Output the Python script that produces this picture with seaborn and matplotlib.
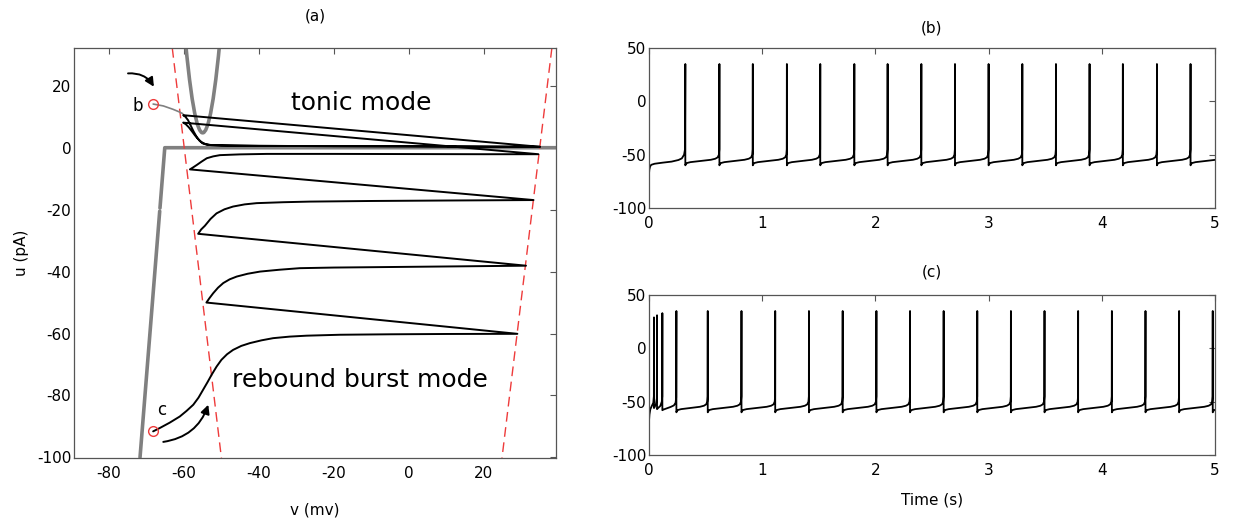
import numpy as np
import pandas as pd
import matplotlib
matplotlib.use("Agg")
import matplotlib.pyplot as plt
import seaborn as sns

# ---------------- Panel (a): phase plane (v in mV, u in pA) ----------------
# u-nullcline (thick grey), drawn in two pieces (small break near u=-20)
unull_lo_v = [-71.7, -66.45]
unull_lo_u = [-100.0, -20.5]
unull_hi_v = [-66.38, -65.1, 45.0]
unull_hi_u = [-19.5, 0.0, 0.0]

# v-nullcline (thick grey parabola)
vnull_v = [-59.8, -59.2, -58.5, -57.8, -57.1, -56.4, -55.8, -55.3, -55.0,
           -54.7, -54.2, -53.6, -52.9, -52.2, -51.5, -50.8, -50.2]
vnull_u = [37.1, 29.5, 22.0, 15.8, 11.0, 7.5, 5.7, 4.9, 4.8,
           4.9, 5.7, 7.5, 11.0, 15.8, 22.0, 29.5, 37.1]

# reset line and spike-peak line (red dashed)
reset_line_v = [-63.1, -50.0]
reset_line_u = [32.2, -100.2]
peak_line_v = [38.1, 24.8]
peak_line_u = [32.2, -100.2]

# tonic mode: grey transient from point b
tonic_in_v = [-68.2, -65.5, -62.9, -61.3, -60.3]
tonic_in_u = [14.1, 13.5, 12.4, 11.6, 11.0]

# limit cycle of tonic mode
cyc_v = [-60.2, -59.6, -58.9, -58.2, -57.4, -56.6, -55.8, -55.0, -54.0, -52.5,
         -50.0, -40.0, -20.0, 0.0, 20.0, 34.9]
cyc_u = [10.5, 10.0, 8.9, 7.2, 5.2, 3.5, 2.2, 1.4, 1.0, 0.8,
         0.7, 0.6, 0.5, 0.45, 0.35, 0.3]

# rebound burst trajectory from point c (segments between spikes)
rb1_v = [-68.2, -66.4, -63.8, -61.1, -59.3, -57.5, -56.1, -54.9, -53.7, -52.6, -51.3,
         -50.0, -48.5, -46.9, -44.7, -42.4, -39.3, -36.2, -31.8, -27.3, -18.4, -5.0, 10.0, 28.9]
rb1_u = [-91.6, -90.5, -88.8, -86.8, -85.0, -83.0, -80.7, -78.2, -75.7, -73.3, -70.7,
         -68.5, -66.7, -65.3, -64.0, -63.1, -62.2, -61.5, -61.0, -60.7, -60.4, -60.25, -60.15, -60.1]
rb2_v = [-54.0, -53.2, -52.2, -50.9, -49.5, -47.8, -45.9, -43.0, -39.7, -34.5, -29.1,
         -20.0, -11.3, 10.0, 31.2]
rb2_u = [-50.0, -48.6, -47.0, -45.2, -43.7, -42.5, -41.6, -40.7, -40.0, -39.4, -38.9,
         -38.7, -38.6, -38.35, -38.1]
rb3_v = [-56.2, -55.4, -54.4, -52.9, -51.3, -49.2, -46.9, -43.8, -40.6, -33.5, -26.4,
         -10.0, 10.0, 33.2]
rb3_u = [-27.8, -26.4, -25.2, -23.0, -21.2, -19.9, -19.0, -18.3, -17.9, -17.6, -17.4,
         -17.2, -17.05, -16.9]
rb4_v = [-58.4, -57.6, -56.6, -55.3, -53.9, -52.2, -50.4, -45.0, -37.9, -20.0, 0.0, 20.0, 34.5]
rb4_u = [-7.0, -6.4, -5.6, -4.5, -3.4, -2.8, -2.4, -2.15, -2.0, -2.0, -2.05, -2.1, -2.1]
rb5_v = [-60.2, -59.5, -58.7, -57.8, -57.0, -56.2, -55.3, -54.3, -53.0, -50.0,
         -40.0, -20.0, 0.0, 20.0, 34.9]
rb5_u = [8.1, 7.6, 6.6, 5.2, 3.9, 2.8, 1.8, 1.2, 0.9, 0.75,
         0.6, 0.5, 0.45, 0.35, 0.3]

start_pts_v = [-68.2, -68.2]
start_pts_u = [14.1, -91.6]

# ---------------- Panels (b) and (c): voltage traces ----------------
# one regular inter-spike interval, as fraction of the interval, and voltage (mV)
isi_phase = [0.0, 0.01, 0.05, 0.15, 0.35, 0.55, 0.75, 0.88, 0.95, 0.985, 0.997]
isi_volt = [-60.0, -59.0, -57.8, -57.0, -56.3, -55.6, -54.8, -53.8, -52.5, -50.0, -45.0]
last_period = 0.297

# (b) tonic: onset then regular spikes
b_init_t = [0.0, 0.003, 0.01, 0.02, 0.05, 0.12, 0.2, 0.26, 0.29, 0.31, 0.318, 0.321]
b_init_v = [-68.0, -64.0, -61.0, -59.5, -58.5, -57.5, -56.5, -55.0, -53.5, -50.0, -45.0, 35.0]
b_spikes = [0.321, 0.622, 0.917, 1.218, 1.513, 1.814, 2.108, 2.406, 2.703, 3.000,
            3.298, 3.595, 3.892, 4.186, 4.487, 4.784]
b_peaks = [35] * 16

# (c) rebound burst: burst of three spikes then regular spikes
c_init_t = [0.0, 0.004, 0.012, 0.025, 0.038, 0.043, 0.044, 0.044, 0.05, 0.062, 0.069,
            0.071, 0.071, 0.08, 0.1, 0.113, 0.117, 0.118, 0.118, 0.125, 0.15, 0.19,
            0.22, 0.235, 0.24, 0.242]
c_init_v = [-68.0, -62.0, -57.0, -54.0, -51.0, -45.0, 29.0, -56.0, -55.0, -52.0, -47.0,
            31.0, -57.0, -56.0, -54.0, -50.0, -45.0, 33.0, -58.0, -57.5, -56.5, -55.0,
            -53.5, -51.0, -46.0, 35.0]
c_spikes = [0.242, 0.519, 0.817, 1.115, 1.413, 1.711, 2.009, 2.306, 2.603, 2.900,
            3.197, 3.494, 3.791, 4.089, 4.386, 4.683, 4.980]
c_peaks = [35] * 17


def build_trace(init_t, init_v, spikes, peaks):
    t, v = list(init_t), list(init_v)
    for i, s in enumerate(spikes):
        nxt = spikes[i + 1] if i + 1 < len(spikes) else s + last_period
        for p, val in zip(isi_phase, isi_volt):
            t.append(s + p * (nxt - s))
            v.append(val)
        if i + 1 < len(spikes):
            t.append(nxt)
            v.append(peaks[i + 1])
    return pd.DataFrame({"t": t, "v": v})


# ---------------- Figure ----------------
sns.set_style("white")
plt.rcParams["font.family"] = ["DejaVu Sans"]
plt.rcParams["axes.unicode_minus"] = False
plt.rcParams["text.color"] = "black"
plt.rcParams["axes.labelcolor"] = "black"
plt.rcParams["xtick.color"] = "black"
plt.rcParams["ytick.color"] = "black"

fig = plt.figure(figsize=(12.34, 5.2), dpi=100)
ax_a = fig.add_axes([74 / 1234, 1 - 458 / 520, 482 / 1234, 410 / 520])
ax_b = fig.add_axes([649 / 1234, 1 - 208 / 520, 566 / 1234, 160 / 520])
ax_c = fig.add_axes([649 / 1234, 1 - 455 / 520, 566 / 1234, 160 / 520])

GREY = "#808080"
RED = "#ee3b3b"
SPINE = "#555555"


def line(ax, x, y, **kw):
    sns.lineplot(x=x, y=y, ax=ax, sort=False, estimator=None, legend=False, **kw)


# panel (a)
line(ax_a, unull_lo_v, unull_lo_u, color=GREY, lw=2.6)
line(ax_a, unull_hi_v, unull_hi_u, color=GREY, lw=2.6)
line(ax_a, vnull_v, vnull_u, color=GREY, lw=2.6)
for vv, uu in [(reset_line_v, reset_line_u), (peak_line_v, peak_line_u)]:
    ax_a.plot(vv, uu, color=RED, lw=1.0, dashes=(7, 4))
line(ax_a, tonic_in_v, tonic_in_u, color=GREY, lw=1.2)
rb_v = rb1_v + rb2_v + rb3_v + rb4_v + rb5_v + cyc_v
rb_u = rb1_u + rb2_u + rb3_u + rb4_u + rb5_u + cyc_u
line(ax_a, rb_v, rb_u, color="black", lw=1.4)
ax_a.plot(start_pts_v, start_pts_u, ls="none", marker="o", ms=7, mfc="none",
          mec=RED, mew=1.0)

ax_a.annotate("", xy=(-68.0, 19.7), xytext=(-74.9, 24.0),
              arrowprops=dict(arrowstyle="-|>", connectionstyle="arc3,rad=-0.3",
                              color="black", lw=1.4, mutation_scale=13,
                              shrinkA=0, shrinkB=0))
ax_a.annotate("", xy=(-53.5, -83.0), xytext=(-65.5, -95.0),
              arrowprops=dict(arrowstyle="-|>", connectionstyle="arc3,rad=0.3",
                              color="black", lw=1.4, mutation_scale=13,
                              shrinkA=0, shrinkB=0))
ax_a.text(-72.3, 13.6, "b", fontsize=12, ha="center", va="center")
ax_a.text(-65.9, -84.8, "c", fontsize=12, ha="center", va="center")
ax_a.text(-12.7, 14.4, "tonic mode", fontsize=18, ha="center", va="center")
ax_a.text(-13.1, -74.9, "rebound burst mode", fontsize=18, ha="center", va="center")

ax_a.set_xlim(-89.3, 39.2)
ax_a.set_ylim(-100.2, 32.2)
ax_a.set_xticks([-80, -60, -40, -20, 0, 20])
ax_a.set_yticks([-100, -80, -60, -40, -20, 0, 20])
ax_a.set_xlabel("v (mv)", fontsize=11, labelpad=15)
ax_a.set_ylabel("u (pA)", fontsize=11, labelpad=6)
ax_a.set_title("(a)", fontsize=11, pad=20)

# panels (b) and (c)
line(ax_b, "t", "v", data=build_trace(b_init_t, b_init_v, b_spikes, b_peaks),
     color="black", lw=1.3)
line(ax_c, "t", "v", data=build_trace(c_init_t, c_init_v, c_spikes, c_peaks),
     color="black", lw=1.3)
for ax, ttl, pad in [(ax_b, "(b)", 11), (ax_c, "(c)", 13)]:
    ax.set_xlim(0, 5)
    ax.set_ylim(-100, 50)
    ax.set_xticks([0, 1, 2, 3, 4, 5])
    ax.set_yticks([-100, -50, 0, 50])
    ax.set_title(ttl, fontsize=11, pad=pad)
    ax.set_ylabel("")
    ax.set_xlabel("")
ax_c.set_xlabel("Time (s)", fontsize=11, labelpad=10)

for ax in (ax_a, ax_b, ax_c):
    for sp in ax.spines.values():
        sp.set_visible(True)
        sp.set_color(SPINE)
        sp.set_linewidth(0.9)
    ax.tick_params(axis="both", direction="in", top=True, right=True, length=4,
                   width=0.8, color=SPINE, labelsize=11, labelcolor="black")
    ax.tick_params(axis="x", pad=6)
    ax.tick_params(axis="y", pad=2)

fig.savefig("out.png", dpi=100)
